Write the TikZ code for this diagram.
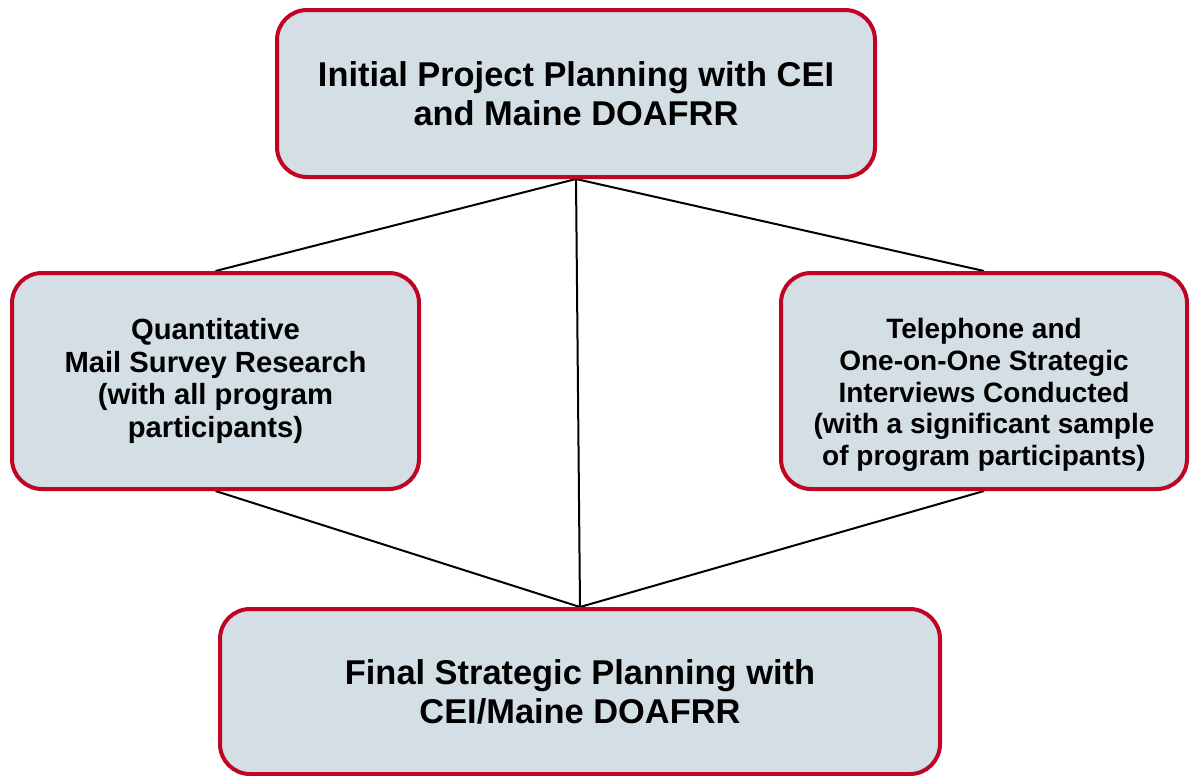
\documentclass[tikz,border=0pt]{standalone}
\usepackage{fontspec}
\setmainfont{Liberation Sans}
\usepackage{xcolor}
\usepackage{tikz}
\usetikzlibrary{positioning,backgrounds}
\definecolor{boxred}{RGB}{192, 4, 36}
\definecolor{boxfill}{RGB}{211, 223, 228}

\begin{document}
\begin{tikzpicture}[x=0.5pt, y=-0.5pt,
    phasebox/.style={draw=boxred, fill=boxfill, line width=2pt, rounded corners=15pt,
                     align=center, inner sep=0pt, font=\bfseries},
    bigtext/.style={font=\fontsize{17.2}{19.5}\selectfont\bfseries},
    smalltext/.style={font=\fontsize{14}{15.9}\selectfont\bfseries},
    link/.style={draw=black, line width=1pt}]
            \useasboundingbox (0,0) rectangle (1190,776);

            % Planning steps
            \node[phasebox, bigtext, minimum width=299pt, minimum height=83.5pt] (initial) at (576,93.5)
                {Initial Project Planning with CEI\\and Maine DOAFRR};

            \node[phasebox, font=\fontsize{14.6}{16.2}\selectfont\bfseries, minimum width=203.5pt, minimum height=108pt] (survey) at (215.5,381)
                {Quantitative\\Mail Survey Research\\(with all program\\participants)};

            \node[phasebox, smalltext, minimum width=203pt, minimum height=108pt] (interviews) at (984,381)
                {\rule{0pt}{24pt}Telephone and\\One-on-One Strategic\\Interviews Conducted\\(with a significant sample\\of program participants)};

            \node[phasebox, bigtext, minimum width=360pt, minimum height=82.5pt] (final) at (580,691.5)
                {Final Strategic Planning with\\CEI/Maine DOAFRR};

            % Connectors
            \begin{scope}[on background layer]
                \draw[link] (initial.south) -- (survey.north);
                \draw[link] (initial.south) -- (interviews.north);
                \draw[link] (initial.south) -- (final.north);
                \draw[link] (survey.south) -- (final.north);
                \draw[link] (interviews.south) -- (final.north);
            \end{scope}
        \end{tikzpicture}
\end{document}
